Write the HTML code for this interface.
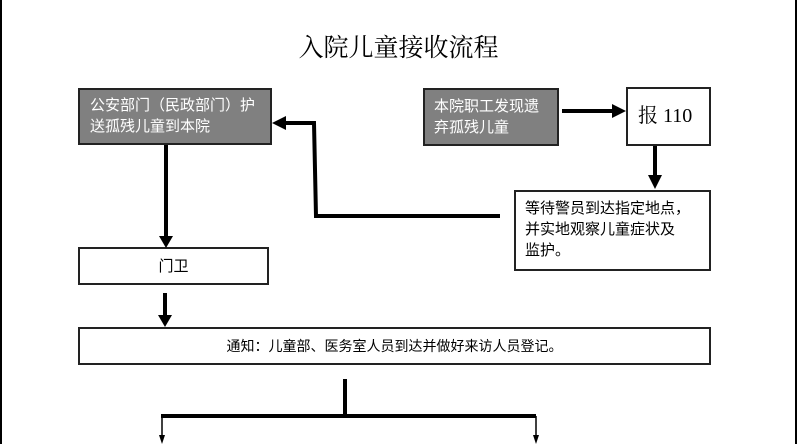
<!DOCTYPE html>
<html><head><meta charset="utf-8"><style>
body{margin:0;width:797px;height:444px;overflow:hidden;background:#fff;font-family:"Liberation Sans","Noto Sans CJK SC",sans-serif;}
.b{position:absolute;box-sizing:border-box;border:2px solid #222;font-size:15px;line-height:21px;}
.g{background:#808080;color:#fff;}
</style></head><body>
<div style="position:absolute;left:0;top:0;width:2px;height:444px;background:#000"></div>
<div style="position:absolute;left:795px;top:0;width:2px;height:444px;background:#000"></div>
<div style="position:absolute;left:0;width:797px;top:28px;text-align:center;font-family:'Liberation Serif','Noto Serif CJK SC',serif;font-size:25px;">入院儿童接收流程</div>
<div class="b g" style="left:78px;top:88px;width:194px;height:57px;padding:5px 0 0 10px;">公安部门（民政部门）护<br>送孤残儿童到本院</div>
<div class="b g" style="left:423px;top:88px;width:136px;height:58px;padding:6px 0 0 9px;">本院职工发现遗<br>弃孤残儿童</div>
<div class="b" style="left:626px;top:87px;width:85px;height:59px;padding:14px 0 0 10px;font-family:'Liberation Serif','Noto Serif CJK SC',serif;font-size:20px;line-height:26px;">报 110</div>
<div class="b" style="left:514px;top:190px;width:197px;height:81px;padding:6px 0 0 9px;">等待警员到达指定地点，<br>并实地观察儿童症状及<br>监护。</div>
<div class="b" style="left:78px;top:247px;width:191px;height:38px;padding:7px 0 0 0;text-align:center;">门卫</div>
<div class="b" style="left:78px;top:327px;width:633px;height:38px;padding:7px 0 0 0;text-align:center;font-size:14px;">通知：儿童部、医务室人员到达并做好来访人员登记。</div>
<svg width="797" height="444" style="position:absolute;left:0;top:0" fill="none" stroke="#000">
<g stroke-width="4">
<line x1="166" y1="145" x2="166" y2="236"/>
<polyline points="500,216 316,216 314,123 284,123"/>
<line x1="562" y1="111" x2="614" y2="111"/>
<line x1="655" y1="146" x2="655" y2="176"/>
<line x1="165" y1="293" x2="165" y2="316"/>
<line x1="345" y1="379" x2="345" y2="416"/>
<line x1="161" y1="416" x2="536" y2="416"/>
</g>
<g fill="#000" stroke="none">
<polygon points="159,236 173,236 166,248"/>
<polygon points="272,123 286,116 286,130"/>
<polygon points="612,104 626,111 612,118"/>
<polygon points="648,175 662,175 655,189"/>
<polygon points="158,315 172,315 165,327"/>
<polygon points="159,435 165,435 162,444"/>
<polygon points="533,435 539,435 536,444"/>
</g>
<g stroke-width="1.5"><line x1="162" y1="416" x2="162" y2="437"/><line x1="536" y1="416" x2="536" y2="437"/></g>
</svg>
</body></html>
